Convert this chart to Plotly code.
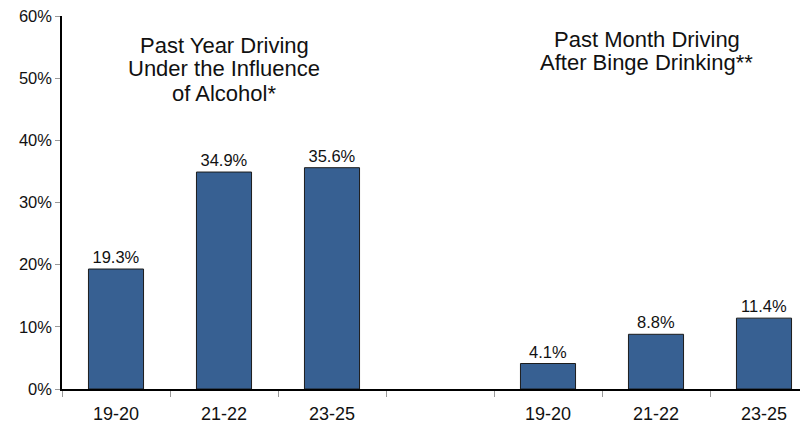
import plotly.graph_objects as go

categories = ["19-20", "21-22", "23-25", "", "19-20", "21-22", "23-25"]
values = [19.3, 34.9, 35.6, None, 4.1, 8.8, 11.4]
value_labels = ["19.3%", "34.9%", "35.6%", "", "4.1%", "8.8%", "11.4%"]
y_ticks = [0, 10, 20, 30, 40, 50, 60]
y_tick_labels = ["0%", "10%", "20%", "30%", "40%", "50%", "60%"]
title_left = ["Past Year Driving", "Under the Influence", "of Alcohol*"]
title_right = ["Past Month Driving", "After Binge Drinking**"]

FONT = "Arial, Liberation Sans, sans-serif"
positions = list(range(len(categories)))
label_pos = [p for p, c in zip(positions, categories) if c]
label_txt = [c for c in categories if c]

# page body has an 8px default margin
OFF = 8
H0, H1 = 16, 389      # desired plot top/bottom in window px
X0 = 62               # desired plot left in window px
PX_PER_CAT = 108

fig = go.Figure()
fig.add_trace(go.Bar(
    x=positions, y=values, width=0.51,
    marker=dict(color="#376092", line=dict(color="#1c1c1c", width=1)),
    text=value_labels, textposition="outside",
    textfont=dict(family=FONT, size=16.5, color="#111"),
    cliponaxis=False, hoverinfo="skip",
))

def py(yp):
    return (H1 - yp) / (H1 - H0)

ann = []
for t, yp in zip(title_left, [45, 69, 93]):
    ann.append(dict(x=1, xref="x", y=py(yp), yref="paper", text=t, showarrow=False,
                    xanchor="center", yanchor="middle",
                    font=dict(family=FONT, size=22, color="#111")))
for t, yp in zip(title_right, [39, 63]):
    ann.append(dict(x=4.915, xref="x", y=py(yp), yref="paper", text=t, showarrow=False,
                    xanchor="center", yanchor="middle",
                    font=dict(family=FONT, size=22, color="#111")))

W, H = 808, 446
plot_w = W - (X0 - OFF)
fig.update_layout(
    width=W, height=H,
    margin=dict(l=X0 - OFF, r=0, t=H0 - OFF, b=H - (H1 - OFF), autoexpand=False),
    paper_bgcolor="white", plot_bgcolor="white",
    showlegend=False, annotations=ann,
    xaxis=dict(range=[-0.5, -0.5 + plot_w / PX_PER_CAT], tickmode="array",
               tickvals=label_pos, ticktext=label_txt, automargin=False,
               ticks="outside", ticklen=0, ticklabelstandoff=8,
               tickfont=dict(family=FONT, size=18, color="#111"),
               showline=True, linecolor="black", linewidth=1.5,
               showgrid=False, zeroline=False,
               minor=dict(tickmode="array", tickvals=[p - 0.5 for p in positions],
                          ticks="outside", ticklen=6, tickcolor="#999", tickwidth=1)),
    yaxis=dict(range=[0, 60], tickmode="array", tickvals=y_ticks, ticktext=y_tick_labels,
               ticks="outside", ticklen=5, tickcolor="#999", automargin=False,
               ticklabeloverflow="allow",
               tickfont=dict(family=FONT, size=16.5, color="#111"),
               showline=True, linecolor="black", linewidth=1.5,
               showgrid=False, zeroline=False),
)
fig.write_html("out.html")
